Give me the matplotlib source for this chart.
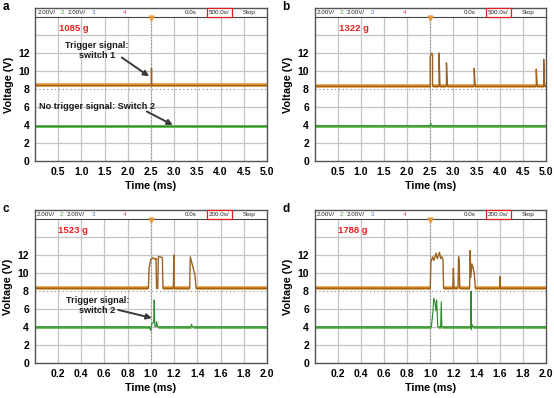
import numpy as np
import matplotlib.pyplot as plt

plt.rcParams['font.family'] = ['Liberation Sans', 'DejaVu Sans']
plt.rcParams['font.weight'] = 'bold'

ORANGE = '#E39A3B'
ORANGE_DK = '#9C6220'
GREEN = '#63B94F'
GREEN_DK = '#2D8A2D'
GRID = '#c4c4c4'

# --- trace data (time in ms, voltage in V), read off the scope screens ---
# a: 500 us/div, only switch 1 triggers
a_ch1_t = [0, 2.49, 2.49, 2.51, 2.51, 5.0]
a_ch1_v = [8.4, 8.4, 10.3, 10.3, 8.4, 8.4]
a_ch2_t = [0, 5.0]
a_ch2_v = [3.9, 3.9]

# b: 500 us/div, bouncing on switch 1
b_ch1_t = [0, 2.5, 2.5, 2.53, 2.55, 2.55, 2.58, 2.69, 2.69, 2.71, 2.85, 2.85, 2.87,
           3.45, 3.45, 3.47, 4.79, 4.79, 4.81, 4.95, 4.95, 4.97, 5.0]
b_ch1_v = [8.3, 8.3, 11.6, 12.0, 11.8, 8.3, 8.3, 8.3, 12.0, 8.3, 8.3, 10.9, 8.3,
           8.3, 10.3, 8.3, 8.3, 10.2, 8.3, 8.3, 11.3, 8.3, 8.3]
b_ch2_t = [0, 2.5, 2.51, 2.52, 5.0]
b_ch2_v = [3.9, 3.9, 4.2, 3.9, 3.9]

# c: 200 us/div, switch 2 triggers briefly
c_ch1_t = [0, 0.98, 0.985, 1.0, 1.02, 1.04, 1.045, 1.05, 1.06, 1.065, 1.08, 1.1, 1.105,
           1.195, 1.198, 1.2, 1.335, 1.34, 1.36, 1.38, 1.39, 2.0]
c_ch1_v = [8.3, 8.3, 10.5, 11.5, 11.7, 11.5, 11.6, 8.3, 8.3, 11.8, 11.8, 11.7, 8.3,
           8.3, 12.0, 8.3, 8.3, 11.8, 10.8, 9.8, 8.3, 8.3]
c_ch2_t = [0, 0.99, 1.0, 1.01, 1.025, 1.03, 1.035, 1.045, 1.05, 1.06, 1.345, 1.35, 1.36, 2.0]
c_ch2_v = [4.0, 4.0, 3.6, 4.4, 4.5, 7.0, 4.1, 4.0, 4.6, 4.0, 4.0, 4.3, 4.0, 4.0]

# d: 200 us/div, both switches trigger
d_ch1_t = [0, 1.0, 1.005, 1.02, 1.03, 1.05, 1.06, 1.08, 1.09, 1.1, 1.11, 1.115,
           1.195, 1.2, 1.205, 1.24, 1.245, 1.25, 1.255,
           1.34, 1.345, 1.35, 1.36, 1.37, 1.38, 1.39, 1.6, 1.603, 1.606, 2.0]
d_ch1_v = [8.3, 8.3, 11.2, 11.8, 11.4, 12.2, 11.6, 12.3, 11.6, 11.8, 11.5, 8.3,
           8.3, 10.5, 8.3, 8.3, 11.8, 11.2, 8.3,
           8.3, 12.5, 9.5, 11.0, 10.6, 10.0, 8.3, 8.3, 9.6, 8.3, 8.3]
d_ch2_t = [0, 1.01, 1.025, 1.03, 1.04, 1.05, 1.055, 1.06, 1.065, 1.09, 1.095, 1.1,
           1.35, 1.352, 1.356, 1.36, 1.37, 2.0]
d_ch2_v = [4.0, 4.0, 6.0, 7.2, 6.8, 5.8, 7.0, 5.6, 4.0, 4.0, 6.8, 4.0,
           4.0, 8.0, 3.7, 4.3, 4.0, 4.0]

loads = ['1085 g', '1322 g', '1523 g', '1788 g']
letters = ['a', 'b', 'c', 'd']
timebase = ['500.0s/', '500.0s/', '200.0s/', '200.0s/']
x_span = [5.0, 5.0, 2.0, 2.0]
x_step = [0.5, 0.5, 0.2, 0.2]
y_ticks = [0, 2, 4, 6, 8, 10, 12]

traces = [(a_ch1_t, a_ch1_v, a_ch2_t, a_ch2_v),
          (b_ch1_t, b_ch1_v, b_ch2_t, b_ch2_v),
          (c_ch1_t, c_ch1_v, c_ch2_t, c_ch2_v),
          (d_ch1_t, d_ch1_v, d_ch2_t, d_ch2_v)]


def draw_trace(ax, t, v, band, thin, band_lw, thin_lw):
    # thick band only where the signal sits on its idle level, thin line everywhere
    v = np.asarray(v, dtype=float)
    base = v[0]
    idle = np.where(np.isclose(v, base), v, np.nan)
    ax.plot(t, idle, color=band, lw=band_lw, zorder=2, solid_capstyle='butt')
    ax.plot(t, v, color=thin, lw=thin_lw, zorder=2)


W, H = 554, 398
fig = plt.figure(figsize=(W / 100, H / 100), dpi=100)

# axes boxes in pixels: left, right, top, bottom
boxes = [(35, 267, 8, 161), (314.5, 546, 8, 161),
         (34.5, 267, 210, 363), (314.5, 546, 210, 363)]

YTOP = 17.0
axes = []
for i, (l, r, t, b) in enumerate(boxes):
    ax = fig.add_axes([l / W, 1 - b / H, (r - l) / W, (b - t) / H])
    axes.append(ax)
    span = x_span[i]
    n = int(round(span / x_step[i]))
    xt = [x_step[i] * k for k in range(1, n + 1)]
    ax.set_xlim(0, span)
    ax.set_ylim(0, YTOP)

    # scope graticule
    ax.vlines(xt[:-1], 0, 16, color=GRID, lw=0.9, zorder=1)
    ax.hlines([2, 4, 6, 10, 12, 14], 0, span, color=GRID, lw=0.9, zorder=1)
    ax.hlines(8, 0, span, color='#8a8a8a', lw=0.8, linestyles=(0, (1, 2.5)), zorder=1)
    ax.vlines(span / 2, 0, 16, color='#8a8a8a', lw=0.8, linestyles=(0, (1, 2)), zorder=1)
    ax.axhline(16, color='#444444', lw=0.8, zorder=3)
    ax.plot(span / 2, 15.85, marker='v', color=ORANGE, ms=3.5, zorder=4)

    t1, v1, t2, v2 = traces[i]
    draw_trace(ax, t1, v1, ORANGE, ORANGE_DK, 2.6, 1.0)
    draw_trace(ax, t2, v2, GREEN, GREEN_DK, 2.0, 0.8)

    # header strip
    hy = (16 + YTOP) / 2 / YTOP
    hk = dict(transform=ax.transAxes, fontsize=4.5, fontweight='normal', va='center')
    ax.text(0.01, hy, '2.00V/', color='#222222', **hk)
    ax.text(0.11, hy, '2', color='#3aa63a', **hk)
    ax.text(0.14, hy, '2.00V/', color='#222222', **hk)
    ax.text(0.245, hy, '3', color='#5577cc', **hk)
    ax.text(0.38, hy, '4', color='#e0408a', **hk)
    ax.text(0.645, hy, '0.0s', color='#222222', **hk)
    ax.text(0.75, hy, timebase[i], color='#222222',
            bbox=dict(boxstyle='square,pad=0.35', fc='white', ec='#e02020', lw=0.9), **hk)
    ax.text(0.895, hy, 'Stop', color='#222222', **hk)

    ax.text(0.105 * span if i < 2 else 0.2, 14.75, loads[i], color='#e8231f',
            fontsize=6.8, fontweight='bold', va='center')

    ax.set_xticks(xt)
    ax.set_xticklabels(['%.1f' % v for v in xt])
    ax.set_yticks(y_ticks)
    ax.tick_params(length=0, labelsize=7.5, pad=4)
    for lab in ax.get_xticklabels() + ax.get_yticklabels():
        lab.set_fontweight('bold')
    for s in ax.spines.values():
        s.set_color('#555555')
        s.set_linewidth(1.0)
    ax.set_xlabel('Time (ms)', fontsize=7.8, fontweight='bold', labelpad=3)
    ax.set_ylabel('Voltage (V)', fontsize=7.8, fontweight='bold', labelpad=3)

    fig.text((l - 32) / W, 1 - (t - 1) / H, letters[i], fontsize=8.5,
             fontweight='bold', va='center', ha='left')

arrow = dict(arrowstyle='-|>', color='#3a3a3a', lw=1.4, mutation_scale=8,
             shrinkA=0, shrinkB=0)
ak = dict(fontsize=6.6, fontweight='bold', ha='center', va='center', color='#1a1a1a')
axes[0].text(1.34, 12.3, 'Trigger signal:\nswitch 1', **ak)
axes[0].annotate('', xy=(2.46, 9.4), xytext=(1.87, 11.5), arrowprops=arrow)
axes[0].text(1.33, 6.0, 'No trigger signal: Switch 2', **ak)
axes[0].annotate('', xy=(2.97, 4.0), xytext=(2.41, 5.5), arrowprops=arrow)
axes[2].text(0.54, 6.4, 'Trigger signal:\nswitch 2', **ak)
axes[2].annotate('', xy=(1.01, 5.0), xytext=(0.72, 5.9), arrowprops=arrow)

fig.savefig('out.png', dpi=100)
